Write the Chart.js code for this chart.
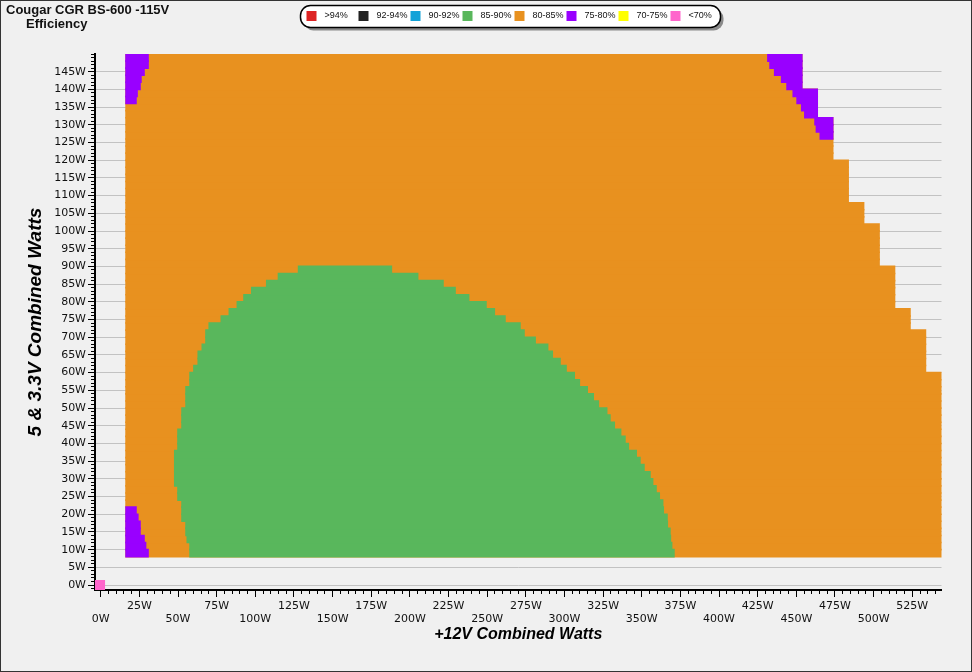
<!DOCTYPE html>
<html lang="en">

<head>
    <meta charset="UTF-8">
    <title>Cougar CGR BS-600 -115V Efficiency</title>
    <style>
        body {
            margin: 0;
            background: #f0f0f0;
        }

        canvas {
            display: block;
        }
    </style>
</head>

<body>
    <canvas id="effChart" width="972" height="672"></canvas>

    <script src="https://cdn.jsdelivr.net/npm/chart.js"></script>
    <script>
        // Titles and legend bands
        const chartTitle = ['Cougar CGR BS-600 -115V', 'Efficiency'];
        const bandLabels = ['>94%', '92-94%', '90-92%', '85-90%', '80-85%', '75-80%', '70-75%', '<70%'];
        const bandColors = ['#dd2424', '#222222', '#12a2d8', '#59b75c', '#e8911f', '#9900ff', '#ffff00', '#ff66cc'];

        // Tick labels
        const xTickValues = [0, 25, 50, 75, 100, 125, 150, 175, 200, 225, 250, 275, 300, 325, 350, 375, 400, 425, 450, 475, 500, 525];
        const yTickValues = [0, 5, 10, 15, 20, 25, 30, 35, 40, 45, 50, 55, 60, 65, 70, 75, 80, 85, 90, 95, 100, 105, 110, 115, 120, 125, 130, 135, 140, 145];

        // 5 & 3.3V combined load rows (W)
        const rows5V = [9, 11, 13, 15, 17, 19, 21, 23, 25, 27, 29, 31, 33, 35, 37, 39, 41, 43, 45, 47, 49,
            51, 53, 55, 57, 59, 61, 63, 65, 67, 69, 71, 73, 75, 77, 79, 81, 83, 85, 87, 89,
            91, 93, 95, 97, 99, 101, 103, 105, 107, 109, 111, 113, 115, 117, 119, 121, 123, 125, 127, 129,
            131, 133, 135, 137, 139, 141, 143, 145, 147, 149];

        // lowest +12V load tested, and the max +12V load reached below each 5V step
        const minLoad12V = 16.4;
        const limit5V = [150, 140.7, 131.8, 119.9, 107.6, 101.7, 89.5, 77.7, 71.5, 59.8];
        const limit12V = [453.5, 463.5, 473.5, 483.5, 493.5, 503.5, 513.5, 523.5, 533.5, 544];

        // 85-90% zone (+12V from / to, per 5V row)
        const greenRows = [9, 11, 13, 15, 17, 19, 21, 23, 25, 27, 29, 31, 33, 35, 37, 39, 41, 43, 45, 47, 49,
            51, 53, 55, 57, 59, 61, 63, 65, 67, 69, 71, 73, 75, 77, 79, 81, 83, 85, 87, 89];
        const greenFrom = [57.8, 57.8, 56, 55.2, 55.2, 52.6, 52.6, 52.6, 50, 50, 47.9, 47.9, 47.9, 47.9, 47.9, 50, 50, 50, 52.6, 52.6, 52.6,
            55.2, 55.2, 55.2, 57.8, 57.8, 60.3, 63.1, 63.1, 65.7, 68.1, 68.1, 70.2, 78, 83.2, 88.4, 92.7, 97.7, 107.4, 115, 128];
        const greenTo = [370.8, 369.3, 368.5, 368.2, 366.5, 366.3, 363.9, 363.5, 361.3, 359.2, 357, 355.3, 351.4, 348.8, 346.4, 341.3, 339.1, 336.3, 332.2, 329.4, 327.3,
            321.9, 318.6, 314.7, 309.6, 306.3, 301, 297.1, 292.1, 289.1, 281, 273.8, 271.2, 261.5, 254.6, 249.2, 238, 229.2, 221.4, 205, 188];

        // 75-80% zones
        const purpleTopRows = [127, 129, 131, 133, 135, 137, 139, 141, 143, 145, 147, 149];
        const purpleTopFrom = [465.5, 463, 462.1, 455.5, 453.5, 450.5, 448, 444, 440.5, 436, 433, 431.6];
        const purpleLeftRows = [9, 11, 13, 15, 17, 19, 21, 137, 139, 141, 143, 145, 147, 149];
        const purpleLeftTo = [30.6, 29, 28, 25.4, 25.4, 24, 22.8, 22.8, 23.5, 25.4, 26, 28, 30.6, 30.6];

        // <70% zone
        const pinkRows = [0];
        const pinkFrom = [-3.7];
        const pinkTo = [2.8];

        const capFor = (load) => {
            let cap = limit12V[0];
            limit5V.forEach((v, i) => { if (load < v) cap = limit12V[i]; });
            return cap;
        };
        const band = (rows, from, to) => rows.map((r, i) => ({ y: r, x: [from[i], to[i]] }));

        const tickFont = { family: 'DejaVu Sans', size: 11, lineHeight: 1.14 };
        const titleFont = (size) => ({ family: 'Liberation Sans', size: size, weight: 'bold', style: 'italic' });

        const roundRect = (ctx, x, y, w, h, r) => {
            ctx.beginPath();
            ctx.moveTo(x + r, y);
            ctx.lineTo(x + w - r, y);
            ctx.arc(x + w - r, y + r, r, -Math.PI / 2, 0);
            ctx.lineTo(x + w, y + h - r);
            ctx.arc(x + w - r, y + h - r, r, 0, Math.PI / 2);
            ctx.lineTo(x + r, y + h);
            ctx.arc(x + r, y + h - r, r, Math.PI / 2, Math.PI);
            ctx.lineTo(x, y + r);
            ctx.arc(x + r, y + r, r, Math.PI, Math.PI * 1.5);
            ctx.closePath();
        };

        // background, frame, title and legend box
        const decorations = {
            id: 'decorations',
            beforeDraw(chart) {
                const ctx = chart.ctx;
                ctx.save();
                ctx.fillStyle = '#f0f0f0';
                ctx.fillRect(0, 0, chart.width, chart.height);
                ctx.restore();
            },
            afterDraw(chart) {
                const ctx = chart.ctx;
                ctx.save();
                ctx.strokeStyle = '#333';
                ctx.lineWidth = 1;
                ctx.strokeRect(0.5, 0.5, chart.width - 1, chart.height - 1);

                ctx.fillStyle = '#111';
                ctx.font = 'bold 13px "Liberation Sans"';
                ctx.textBaseline = 'alphabetic';
                ctx.fillText(chartTitle[0], 6, 14);
                ctx.fillText(chartTitle[1], 26, 28);

                ctx.fillStyle = '#8a8a8a';
                roundRect(ctx, 303.5, 8.5, 420, 22, 10);
                ctx.fill();
                ctx.fillStyle = '#ffffff';
                roundRect(ctx, 300.5, 5.5, 420, 22, 10);
                ctx.fill();
                ctx.strokeStyle = '#000';
                ctx.lineWidth = 1.5;
                ctx.stroke();

                ctx.font = '9px "Liberation Sans"';
                ctx.textBaseline = 'middle';
                bandLabels.forEach((label, i) => {
                    const x = 306.5 + i * 52;
                    ctx.fillStyle = bandColors[i];
                    ctx.fillRect(x, 11, 10, 10);
                    ctx.fillStyle = '#111';
                    ctx.fillText(label, x + 18, 16);
                });
                ctx.restore();
            }
        };

        const zone = (label, data, color, order) => ({
            label: label,
            data: data,
            backgroundColor: color,
            borderWidth: 0,
            inflateAmount: 0.8,
            grouped: false,
            barPercentage: 1,
            categoryPercentage: 1,
            order: order
        });

        const pinkZone = zone('<70%', band(pinkRows, pinkFrom, pinkTo), bandColors[7], 0);
        pinkZone.grouped = true;
        pinkZone.barThickness = 10;
        pinkZone.inflateAmount = 0;

        new Chart(document.getElementById('effChart'), {
            type: 'bar',
            data: {
                datasets: [
                    zone('80-85%', band(rows5V, rows5V.map(() => minLoad12V), rows5V.map(capFor)), bandColors[4], 3),
                    zone('75-80%', band(purpleTopRows, purpleTopFrom, purpleTopRows.map(capFor)), bandColors[5], 2),
                    zone('75-80%', band(purpleLeftRows, purpleLeftRows.map(() => minLoad12V), purpleLeftTo), bandColors[5], 2),
                    zone('85-90%', band(greenRows, greenFrom, greenTo), bandColors[3], 1),
                    pinkZone
                ]
            },
            options: {
                indexAxis: 'y',
                responsive: false,
                animation: false,
                layout: { padding: { left: 24, right: 30.5, top: 54, bottom: 28 } },
                plugins: {
                    legend: { display: false },
                    tooltip: { enabled: false }
                },
                scales: {
                    x: {
                        type: 'linear', axis: 'x', position: 'bottom', weight: 0,
                        min: -3.7, max: 543.9,
                        afterBuildTicks: s => { s.ticks = xTickValues.map(v => ({ value: v })); },
                        afterFit: s => { s.height = 54; },
                        grid: { drawOnChartArea: false, tickLength: 7, tickColor: '#000' },
                        border: { color: '#000', width: 2 },
                        ticks: {
                            autoSkip: false, maxRotation: 0, padding: 3, color: '#111', font: tickFont,
                            callback: v => (v / 25) % 2 ? [v + 'W', ''] : ['', v + 'W']
                        },
                        title: { display: true, text: '+12V Combined Watts', color: '#000', padding: 0, font: titleFont(16) }
                    },
                    xMinor: {
                        type: 'linear', axis: 'x', position: 'bottom', weight: -1,
                        min: -3.7, max: 543.9,
                        afterFit: s => { s.height = 0; },
                        grid: { drawOnChartArea: false, tickLength: 4, tickColor: '#000' },
                        border: { display: false },
                        ticks: { stepSize: 5, includeBounds: false, display: false }
                    },
                    y: {
                        type: 'linear', axis: 'y', position: 'left', weight: 1,
                        min: -1.4, max: 150, offset: false,
                        afterBuildTicks: s => { s.ticks = yTickValues.map(v => ({ value: v })); },
                        afterFit: s => { s.width = 71; },
                        grid: { offset: false, color: '#c2c2c2', lineWidth: 1, tickColor: '#000', tickLength: 7 },
                        border: { color: '#000', width: 2 },
                        ticks: { autoSkip: false, padding: 2, color: '#111', font: tickFont, callback: v => v + 'W' },
                        title: { display: true, text: '5 & 3.3V Combined Watts', color: '#000', padding: 0, font: titleFont(19) }
                    },
                    yMinor: {
                        type: 'linear', axis: 'y', position: 'left', weight: 0,
                        min: -1.4, max: 150, offset: false,
                        afterFit: s => { s.width = 0; },
                        grid: { offset: false, drawOnChartArea: false, tickLength: 4, tickColor: '#000' },
                        border: { display: false },
                        ticks: { stepSize: 1, includeBounds: false, display: false }
                    }
                }
            },
            plugins: [decorations]
        });
    </script>
</body>

</html>
